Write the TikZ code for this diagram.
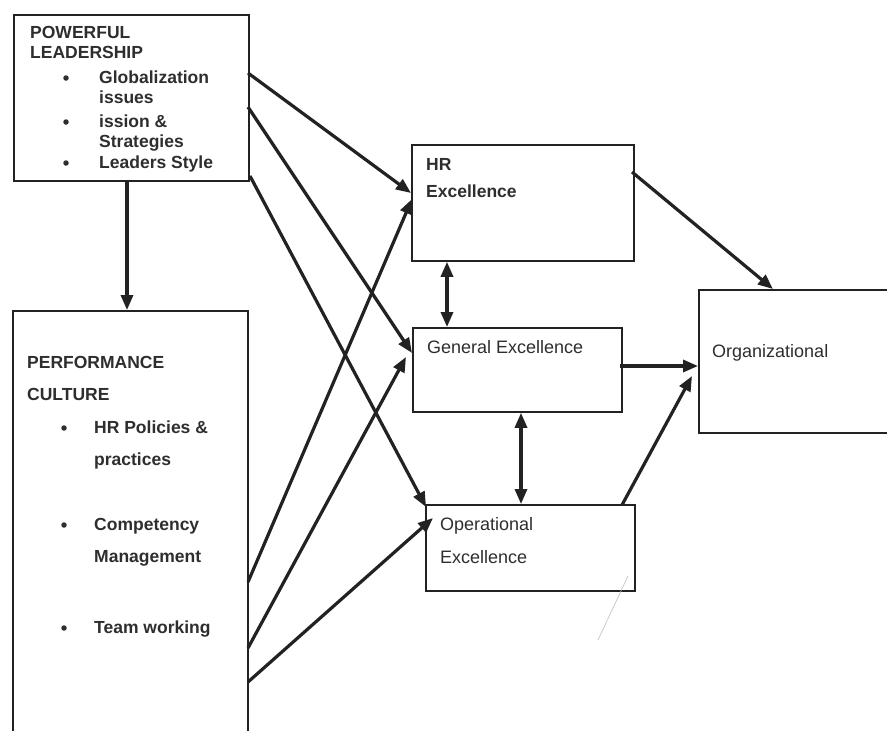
\documentclass[tikz,border=0pt]{standalone}
\usepackage{fontspec}
\setmainfont{Liberation Sans}
\usetikzlibrary{arrows.meta}
\definecolor{ink}{HTML}{222222}
\definecolor{txt}{HTML}{2e2e2e}
\tikzset{
  box/.style={draw=ink, line width=1.8pt, fill=none, inner sep=0pt, anchor=north west},
  bt/.style={anchor=base west, inner sep=0pt, text=txt, font=\fontsize{17.5}{20}\selectfont\bfseries},
  rt/.style={anchor=base west, inner sep=0pt, text=txt, font=\fontsize{18}{21}\selectfont},
  bul/.style={circle, fill=txt, inner sep=0pt, minimum size=5.5pt},
  conn/.style={draw=ink, line width=3.2pt, -{Triangle[length=15pt,width=12pt]}},
  dconn/.style={draw=ink, line width=3.2pt, {Triangle[length=15pt,width=12pt]}-{Triangle[length=15pt,width=12pt]}},
}
\begin{document}
\begin{tikzpicture}[x=1pt,y=-1pt]
\useasboundingbox (0,0) rectangle (887,731);
\clip (0,0) rectangle (887,731);
\fill[white] (0,0) rectangle (887,731);

% boxes
\node[box, minimum width=235pt, minimum height=166pt] (pl) at (13,14) {};
\node[box, minimum width=235pt, minimum height=440pt] (pc) at (12,310) {};
\node[box, minimum width=222pt, minimum height=116pt] (hr) at (411,144) {};
\node[box, minimum width=209pt, minimum height=84pt] (ge) at (412,327) {};
\node[box, minimum width=209pt, minimum height=86pt] (oe) at (425,504) {};
\node[box, minimum width=220pt, minimum height=143pt] (org) at (698,289) {};

% texts box 1
\node[bt] (t1) at (30,38) {POWERFUL};
\node[bt] (t2) at (30,58) {LEADERSHIP};
\node[bul] (b1) at (66,78) {};
\node[bt] (t3) at (99,83) {Globalization};
\node[bt] (t4) at (99,103) {issues};
\node[bul] (b2) at (66,122) {};
\node[bt] (t5) at (99,127) {ission \&};
\node[bt] (t6) at (99,147) {Strategies};
\node[bul] (b3) at (66,163) {};
\node[bt] (t7) at (99,168) {Leaders Style};

% texts box 2
\node[bt] (u1) at (27,368) {PERFORMANCE};
\node[bt] (u2) at (27,400) {CULTURE};
\node[bul] (c1) at (64,428) {};
\node[bt] (u3) at (94,433) {HR Policies \&};
\node[bt] (u4) at (94,465) {practices};
\node[bul] (c2) at (64,525) {};
\node[bt] (u5) at (94,530) {Competency};
\node[bt] (u6) at (94,562) {Management};
\node[bul] (c3) at (64,628) {};
\node[bt] (u7) at (94,633) {Team working};

% other texts
\node[bt] (h1) at (426,170) {HR};
\node[bt] (h2) at (426,197) {Excellence};
\node[rt] (g1) at (427,353) {General Excellence};
\node[rt] (o1) at (440,530) {Operational};
\node[rt] (o2) at (440,563) {Excellence};
\node[rt] (r1) at (712,357) {Organizational};

% connector end points
\coordinate (pl1) at (248,73);
\coordinate (pl2) at (248,107);
\coordinate (pl3) at (250,176);
\coordinate (pc1) at (248,582);
\coordinate (pc2) at (248,648);
\coordinate (pc3) at (248,682);
\coordinate (hr1) at (411,193);
\coordinate (hr2) at (412,199);
\coordinate (ge1) at (412,353);
\coordinate (ge2) at (406,357);
\coordinate (oe1) at (426,507);
\coordinate (oe2) at (433,518);
\coordinate (hrr) at (632,172);
\coordinate (org1) at (773,289);
\coordinate (ger) at (620,366);
\coordinate (org2) at (698,366);
\coordinate (oer) at (622,505);
\coordinate (org3) at (692,376);

\draw[conn] (pl.south -| 127,0) -- (pc.north -| 127,0);
\draw[conn] (pl1) -- (hr1);
\draw[conn] (pl2) -- (ge1);
\draw[conn] (pl3) -- (oe1);
\draw[conn] (pc1) -- (hr2);
\draw[conn] (pc2) -- (ge2);
\draw[conn] (pc3) -- (oe2);
\draw[dconn] (hr.south -| 447,0) -- (ge.north -| 447,0);
\draw[dconn] (ge.south -| 521,0) -- (oe.north -| 521,0);
\draw[conn] (hrr) -- (org1);
\draw[conn] (ger) -- (org2);
\draw[conn] (oer) -- (org3);

% faint pencil mark
\draw[gray!50, line width=0.6pt] (628,576) -- (598,640);
\end{tikzpicture}
\end{document}
